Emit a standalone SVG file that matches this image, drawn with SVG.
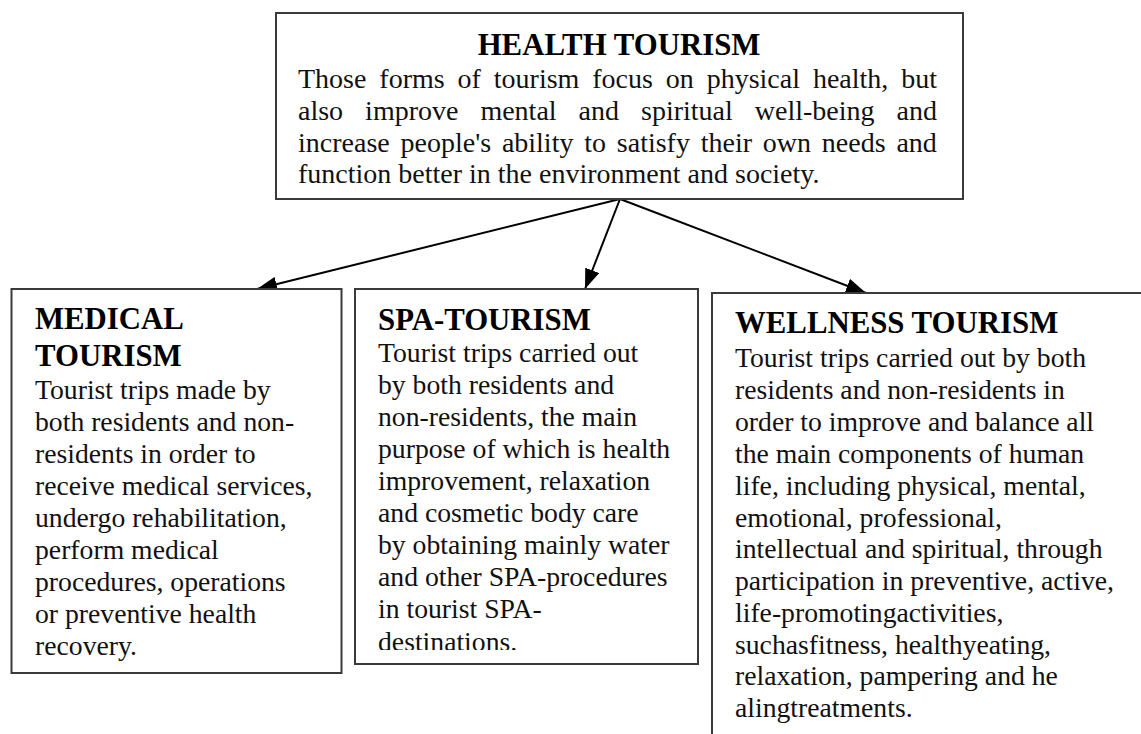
<svg xmlns="http://www.w3.org/2000/svg" width="1141" height="734" viewBox="0 0 1141 734">
  <style>
    .box { fill: #fff; stroke: #3a3a3a; stroke-width: 2; }
    .edge { fill: none; stroke: #000; stroke-width: 2; }
    .title { font-family: "Liberation Serif", "Times New Roman", serif; font-weight: bold; font-size: 30.8px; fill: #000; }
    .body { font-family: "Liberation Serif", "Times New Roman", serif; font-size: 27.7px; fill: #111; }
    .lead { font-family: "Liberation Serif", "Times New Roman", serif; font-size: 28px; fill: #111; }
  </style>
  <defs>
    <marker id="arrow" markerUnits="userSpaceOnUse" markerWidth="21" markerHeight="15" refX="20" refY="7.5" orient="auto">
      <path d="M0,0 L20,7.5 L0,15 z" fill="#000"/>
    </marker>
    <clipPath id="spaClip">
      <rect x="355" y="289" width="343" height="361"/>
    </clipPath>
  </defs>

  <rect width="1141" height="734" fill="#fff"/>

  <!-- connectors -->
  <g id="connectors">
    <line class="edge" x1="620" y1="199" x2="257" y2="289" marker-end="url(#arrow)"/>
    <line class="edge" x1="620" y1="199" x2="585" y2="289" marker-end="url(#arrow)"/>
    <line class="edge" x1="620" y1="199" x2="866" y2="293" marker-end="url(#arrow)"/>
  </g>

  <!-- health tourism (root) -->
  <g id="health-tourism">
    <rect class="box" x="276" y="13" width="687" height="186"/>
    <text class="title" x="619" y="55" text-anchor="middle">HEALTH TOURISM</text>
    <text class="lead" x="298" y="88" word-spacing="5.9">Those forms of tourism focus on physical health, but</text>
    <text class="lead" x="298" y="120" word-spacing="15">also improve mental and spiritual well-being and</text>
    <text class="lead" x="298" y="152" word-spacing="3.8">increase people's ability to satisfy their own needs and</text>
    <text class="lead" x="298" y="183">function better in the environment and society.</text>
  </g>

  <!-- medical tourism -->
  <g id="medical-tourism">
    <rect class="box" x="11.5" y="289" width="330" height="384"/>
    <text class="title" x="35" y="329">MEDICAL</text>
    <text class="title" x="35" y="366">TOURISM</text>
    <text class="body" x="35">
      <tspan x="35" y="399">Tourist trips made by</tspan>
      <tspan x="35" y="431">both residents and non-</tspan>
      <tspan x="35" y="463">residents in order to</tspan>
      <tspan x="35" y="495">receive medical services,</tspan>
      <tspan x="35" y="527">undergo rehabilitation,</tspan>
      <tspan x="35" y="559">perform medical</tspan>
      <tspan x="35" y="591">procedures, operations</tspan>
      <tspan x="35" y="623">or preventive health</tspan>
      <tspan x="35" y="655">recovery.</tspan>
    </text>
  </g>

  <!-- spa tourism -->
  <g id="spa-tourism">
    <rect class="box" x="355" y="289" width="343" height="375"/>
    <text class="title" x="378" y="330">SPA-TOURISM</text>
    <text class="body" clip-path="url(#spaClip)">
      <tspan x="378" y="362">Tourist trips carried out</tspan>
      <tspan x="378" y="394">by both residents and</tspan>
      <tspan x="378" y="426">non-residents, the main</tspan>
      <tspan x="378" y="458">purpose of which is health</tspan>
      <tspan x="378" y="490">improvement, relaxation</tspan>
      <tspan x="378" y="522">and cosmetic body care</tspan>
      <tspan x="378" y="554">by obtaining mainly water</tspan>
      <tspan x="378" y="586">and other SPA-procedures</tspan>
      <tspan x="378" y="618">in tourist SPA-</tspan>
      <tspan x="378" y="651">destinations.</tspan>
    </text>
  </g>

  <!-- wellness tourism (box runs past the page edge) -->
  <g id="wellness-tourism">
    <rect x="712" y="293" width="429" height="441" fill="#fff"/>
    <path class="box" d="M712,734 V293 H1141" fill="none"/>
    <text class="title" x="735" y="333">WELLNESS TOURISM</text>
    <text class="body">
      <tspan x="735" y="367">Tourist trips carried out by both</tspan>
      <tspan x="735" y="399">residents and non-residents in</tspan>
      <tspan x="735" y="431">order to improve and balance all</tspan>
      <tspan x="735" y="463">the main components of human</tspan>
      <tspan x="735" y="495">life, including physical, mental,</tspan>
      <tspan x="735" y="527">emotional, professional,</tspan>
      <tspan x="735" y="558">intellectual and spiritual, through</tspan>
      <tspan x="735" y="590">participation in preventive, active,</tspan>
      <tspan x="735" y="622">life-promotingactivities,</tspan>
      <tspan x="735" y="654">suchasfitness, healthyeating,</tspan>
      <tspan x="735" y="685">relaxation, pampering and he</tspan>
      <tspan x="735" y="717">alingtreatments.</tspan>
    </text>
  </g>
</svg>
